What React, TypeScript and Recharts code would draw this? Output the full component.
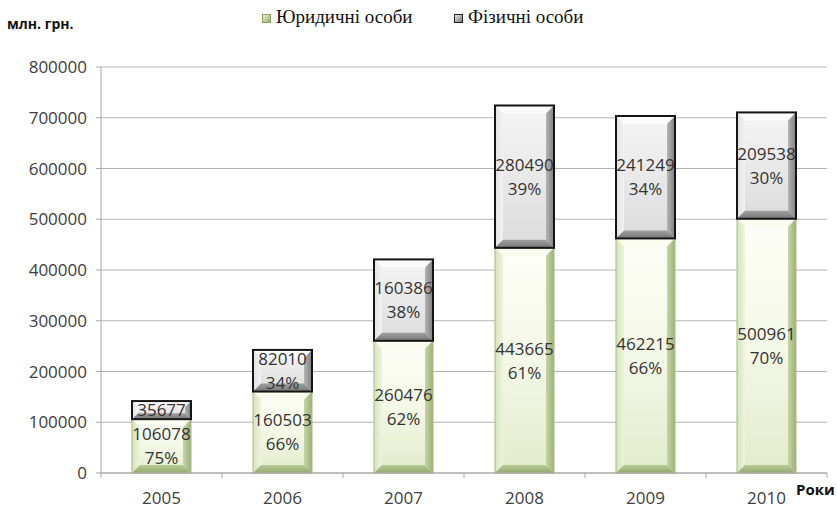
import React from 'react';
import { BarChart, Bar, XAxis, YAxis, CartesianGrid, LabelList } from 'recharts';

const years = ['2005', '2006', '2007', '2008', '2009', '2010'];
const legalValues = [106078, 160503, 260476, 443665, 462215, 500961];
const personValues = [35677, 82010, 160386, 280490, 241249, 209538];
const legalPct = [75, 66, 62, 61, 66, 70];
const personPct = [25, 34, 38, 39, 34, 30];
const yTicks = [0, 100000, 200000, 300000, 400000, 500000, 600000, 700000, 800000];

const legalName = 'Юридичні особи';
const personName = 'Фізичні особи';
const yUnit = 'млн. грн.';
const xUnit = 'Роки';

const data = years.map((y, i) => ({ year: y, legal: legalValues[i], person: personValues[i] }));

const W = 837;
const H = 512;
const PLOT_LEFT = 101;
const PLOT_RIGHT = 827;
const BAND = (PLOT_RIGHT - PLOT_LEFT) / years.length;
const FONT = '"Open Sans", "Liberation Sans", sans-serif';
const SERIF = '"Times New Roman", "Liberation Serif", "DejaVu Serif", serif';
const TEXT = '#404040';

const bevelShape = (kind: 'green' | 'gray') => (props: any) => {
  const { x, y, width: w, height: h } = props;
  if (!w || !h || h <= 0) return null;
  const b = Math.min(8, h / 3, w / 3);
  const p = (pts: number[][]) => pts.map((q) => q.join(',')).join(' ');
  const isG = kind === 'green';
  return (
    <g>
      <rect x={x} y={y} width={w} height={h} fill={`url(#${kind}Body)`} />
      <polygon points={p([[x, y], [x + w, y], [x + w - b, y + b], [x + b, y + b]])} fill={isG ? '#f8fbee' : '#fbfbfb'} />
      <polygon points={p([[x, y], [x + b, y + b], [x + b, y + h - b], [x, y + h]])} fill={`url(#${kind}Left)`} />
      <polygon points={p([[x + w, y], [x + w - b, y + b], [x + w - b, y + h - b], [x + w, y + h]])} fill={`url(#${kind}Right)`} />
      <polygon points={p([[x, y + h], [x + w, y + h], [x + w - b, y + h - b], [x + b, y + h - b]])} fill={`url(#${kind}Bottom)`} />
      {isG ? (
        <rect x={x} y={y} width={w} height={h} fill="none" stroke="#a8ba88" strokeWidth={1} />
      ) : (
        <rect x={x} y={y} width={w} height={h} fill="none" stroke="#151515" strokeWidth={2} />
      )}
    </g>
  );
};

const makeLabel = (pcts: number[]) => (props: any) => {
  const { x, y, width, height, value, index } = props;
  const cx = Number(x) + Number(width) / 2;
  const cy = Number(y) + Number(height) / 2;
  const common = { x: cx, textAnchor: 'middle' as const, fontFamily: FONT, fontSize: 17, fill: '#333333' };
  if (Math.abs(Number(height)) < 34) {
    return (
      <text {...common} y={cy} dy="0.36em">{value}</text>
    );
  }
  return (
    <g>
      <text {...common} y={cy - 12} dy="0.36em">{value}</text>
      <text {...common} y={cy + 12} dy="0.36em">{`${pcts[index]}%`}</text>
    </g>
  );
};

const XTick = (props: any) => {
  const { x, y, payload, index } = props;
  const half = BAND / 2;
  return (
    <g>
      <line x1={x - half} y1={y} x2={x - half} y2={y + 5} stroke="#a6a6a6" />
      {index === years.length - 1 && <line x1={x + half} y1={y} x2={x + half} y2={y + 5} stroke="#a6a6a6" />}
      <text x={x} y={y + 25} dy="0.36em" textAnchor="middle" fontFamily={FONT} fontSize={17} fill={TEXT}>
        {payload.value}
      </text>
    </g>
  );
};

const LegendIcon = ({ kind }: { kind: 'green' | 'gray' }) => (
  <svg width={9} height={9} style={{ display: 'inline-block', verticalAlign: 'middle', marginRight: 5 }}>
    <defs>
      <linearGradient id={`leg${kind}`} x1="0" y1="0" x2="1" y2="1">
        <stop offset="0" stopColor={kind === 'green' ? '#f2f7e0' : '#f5f5f5'} />
        <stop offset="1" stopColor={kind === 'green' ? '#8fa866' : '#6e6e6e'} />
      </linearGradient>
    </defs>
    <rect x={0.5} y={0.5} width={8} height={8} fill={`url(#leg${kind})`} stroke={kind === 'green' ? '#8aa060' : '#222'} strokeWidth={1} />
  </svg>
);

export default function App() {
  return (
    <div style={{ position: 'absolute', left: 0, top: 0, width: W, height: H, background: '#ffffff', overflow: 'hidden' }}>
      <BarChart width={W} height={H} data={data} margin={{ top: 67, right: W - PLOT_RIGHT, bottom: 0, left: 0 }}>
        <defs>
          <linearGradient id="greenBody" x1="0" y1="0" x2="0" y2="1">
            <stop offset="0" stopColor="#fdfef7" />
            <stop offset="0.5" stopColor="#f4f8e6" />
            <stop offset="1" stopColor="#e2ebcc" />
          </linearGradient>
          <linearGradient id="greenLeft" x1="0" y1="0" x2="1" y2="0">
            <stop offset="0" stopColor="#d7e3bd" />
            <stop offset="1" stopColor="#eef4dd" />
          </linearGradient>
          <linearGradient id="greenRight" x1="0" y1="0" x2="1" y2="0">
            <stop offset="0" stopColor="#c6d5a6" />
            <stop offset="1" stopColor="#9cb279" />
          </linearGradient>
          <linearGradient id="greenBottom" x1="0" y1="0" x2="0" y2="1">
            <stop offset="0" stopColor="#b9cb96" />
            <stop offset="1" stopColor="#93aa70" />
          </linearGradient>
          <linearGradient id="grayBody" x1="0" y1="0" x2="0" y2="1">
            <stop offset="0" stopColor="#f5f5f5" />
            <stop offset="1" stopColor="#dcdcdc" />
          </linearGradient>
          <linearGradient id="grayLeft" x1="0" y1="0" x2="1" y2="0">
            <stop offset="0" stopColor="#e2e2e2" />
            <stop offset="1" stopColor="#f2f2f2" />
          </linearGradient>
          <linearGradient id="grayRight" x1="0" y1="0" x2="1" y2="0">
            <stop offset="0" stopColor="#b5b5b5" />
            <stop offset="1" stopColor="#7e7e7e" />
          </linearGradient>
          <linearGradient id="grayBottom" x1="0" y1="0" x2="0" y2="1">
            <stop offset="0" stopColor="#a0a0a0" />
            <stop offset="1" stopColor="#767676" />
          </linearGradient>
        </defs>
        <CartesianGrid vertical={false} stroke="#b4b4b4" strokeWidth={1} />
        <XAxis
          dataKey="year"
          height={H - 473}
          axisLine={{ stroke: '#a6a6a6' }}
          tickLine={false}
          tickSize={0}
          tickMargin={0}
          interval={0}
          tick={<XTick />}
        />
        <YAxis
          width={PLOT_LEFT}
          domain={[0, 800000]}
          ticks={yTicks}
          interval={0}
          axisLine={{ stroke: '#a6a6a6' }}
          tickLine={{ stroke: '#a6a6a6' }}
          tickSize={5}
          tickMargin={9}
          tick={{ fontFamily: FONT, fontSize: 17, fill: TEXT }}
        />
        <Bar dataKey="legal" stackId="a" barSize={59} isAnimationActive={false} shape={bevelShape('green')}>
          <LabelList dataKey="legal" content={makeLabel(legalPct)} />
        </Bar>
        <Bar dataKey="person" stackId="a" barSize={59} isAnimationActive={false} shape={bevelShape('gray')}>
          <LabelList dataKey="person" content={makeLabel(personPct)} />
        </Bar>
      </BarChart>
      <div style={{ position: 'absolute', left: 7, top: 14, fontFamily: FONT, fontWeight: 700, fontSize: 14, color: '#111' }}>
        {yUnit}
      </div>
      <div style={{ position: 'absolute', left: 796, top: 479, fontFamily: FONT, fontWeight: 700, fontSize: 15, color: '#111' }}>
        {xUnit}
      </div>
      <div style={{ position: 'absolute', left: 262, top: 6, fontFamily: SERIF, fontSize: 19, color: '#111', whiteSpace: 'nowrap' }}>
        <LegendIcon kind="green" />
        <span>{legalName}</span>
      </div>
      <div style={{ position: 'absolute', left: 454, top: 6, fontFamily: SERIF, fontSize: 19, color: '#111', whiteSpace: 'nowrap' }}>
        <LegendIcon kind="gray" />
        <span>{personName}</span>
      </div>
    </div>
  );
}
